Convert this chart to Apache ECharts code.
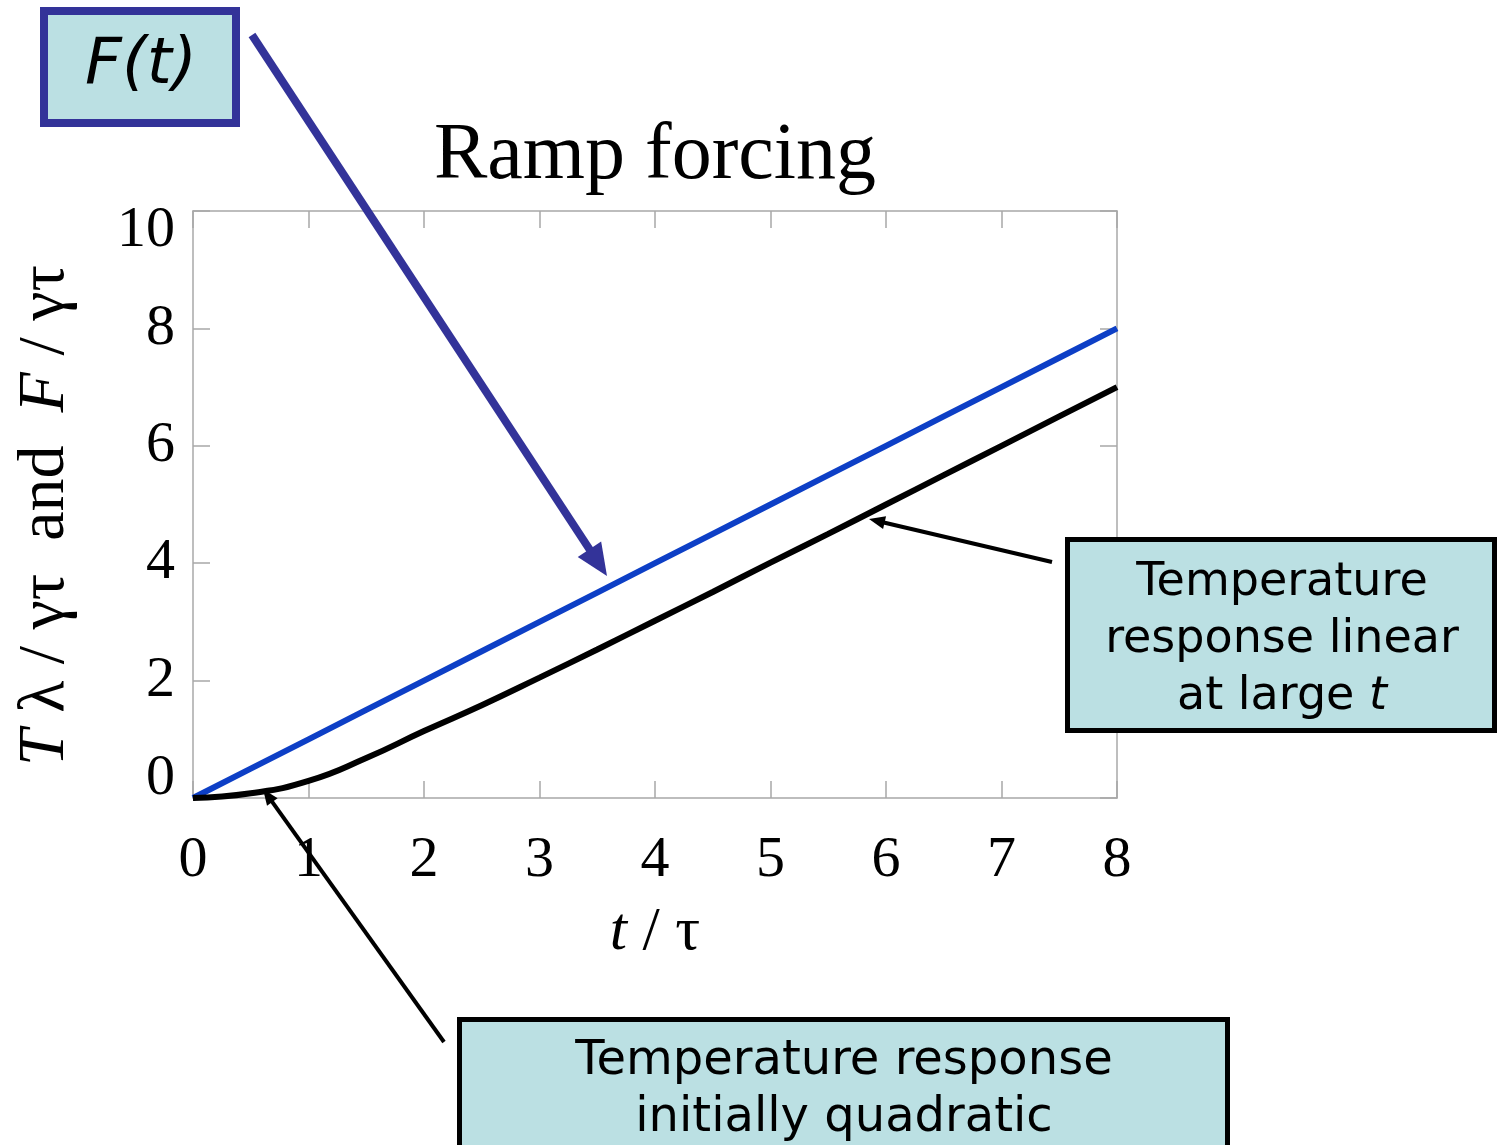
<!DOCTYPE html>
<html><head><meta charset="utf-8">
<script src="https://cdn.jsdelivr.net/npm/echarts@6/dist/echarts.min.js"></script>
<style>html,body{margin:0;padding:0;background:#fff}#c{width:1501px;height:1145px}</style>
</head><body><div id="c"></div>
<script>
// Data
var tValues = [0, 0.5, 1, 1.5, 2, 2.5, 3, 3.5, 4, 4.5, 5, 5.5, 6, 6.5, 7, 7.5, 8];
var forcing = [0, 0.5, 1, 1.5, 2, 2.5, 3, 3.5, 4, 4.5, 5, 5.5, 6, 6.5, 7, 7.5, 8];
var temperature = [0, 0.08, 0.29, 0.68, 1.14, 1.58, 2.05, 2.53, 3.02, 3.51, 4.01, 4.5, 5.0, 5.5, 6.0, 6.5, 7.0];
var xTicks = [0, 1, 2, 3, 4, 5, 6, 7, 8];
var yTicks = [0, 2, 4, 6, 8, 10];

var chart = echarts.init(document.getElementById('c'));
var serif = '"Liberation Serif", "Times New Roman", serif';
var sans = '"DejaVu Sans", Verdana, sans-serif';
var gray = '#a8a8a8';

function pairs(xs, ys) { return xs.map(function (x, i) { return [x, ys[i]]; }); }

function arrow(x1, y1, x2, y2, color, w, headLen, headW) {
  var dx = x2 - x1, dy = y2 - y1, L = Math.sqrt(dx * dx + dy * dy);
  var ux = dx / L, uy = dy / L, px = -uy, py = ux;
  var bx = x2 - ux * headLen, by = y2 - uy * headLen;
  return [
    { type: 'line', z: 100, shape: { x1: x1, y1: y1, x2: bx + ux * 2, y2: by + uy * 2 }, style: { stroke: color, lineWidth: w } },
    { type: 'polygon', z: 100, shape: { points: [[x2, y2], [bx + px * headW / 2, by + py * headW / 2], [bx - px * headW / 2, by - py * headW / 2]] }, style: { fill: color } }
  ];
}

var graphics = [
  { type: 'text', z: 100, x: 655, y: 157, style: { text: 'Ramp forcing', font: '80px ' + serif, fill: '#000', textAlign: 'center', textVerticalAlign: 'middle' } },
  // F(t) box
  { type: 'rect', z: 100, shape: { x: 44, y: 11, width: 192, height: 112 }, style: { fill: '#bbe0e3', stroke: '#333399', lineWidth: 8 } },
  { type: 'text', z: 101, x: 141, y: 66, style: { text: 'F(t)', font: 'italic 64px ' + sans, fill: '#000', textAlign: 'center', textVerticalAlign: 'middle' } },
  // right box
  { type: 'rect', z: 100, shape: { x: 1067.5, y: 539.5, width: 427, height: 191 }, style: { fill: '#bbe0e3', stroke: '#000', lineWidth: 5 } },
  { type: 'text', z: 101, x: 1282, y: 583, style: { text: 'Temperature', font: '46px ' + sans, fill: '#000', textAlign: 'center', textVerticalAlign: 'middle' } },
  { type: 'text', z: 101, x: 1282, y: 640, style: { text: 'response linear', font: '46px ' + sans, fill: '#000', textAlign: 'center', textVerticalAlign: 'middle' } },
  { type: 'text', z: 101, x: 1282, y: 697, style: { rich: { n: { font: '46px ' + sans, fill: '#000' }, i: { font: 'italic 46px ' + sans, fill: '#000' } }, text: '{n|at large }{i|t}', textAlign: 'center', textVerticalAlign: 'middle' } },
  // bottom box
  { type: 'rect', z: 100, shape: { x: 459.5, y: 1019.5, width: 768, height: 140 }, style: { fill: '#bbe0e3', stroke: '#000', lineWidth: 5 } },
  { type: 'text', z: 101, x: 844, y: 1062, style: { text: 'Temperature response', font: '48px ' + sans, fill: '#000', textAlign: 'center', textVerticalAlign: 'middle' } },
  { type: 'text', z: 101, x: 844, y: 1119, style: { text: 'initially quadratic', font: '48px ' + sans, fill: '#000', textAlign: 'center', textVerticalAlign: 'middle' } }
];
graphics = graphics.concat(arrow(252, 35, 607, 576, '#333399', 8, 32, 28));
graphics = graphics.concat(arrow(1052, 562, 869, 519, '#000', 4, 16, 13));
graphics = graphics.concat(arrow(444, 1042, 263, 789, '#000', 4, 16, 13));

var axisBase = {
  type: 'value',
  axisLine: { show: true, onZero: false, lineStyle: { color: gray, width: 1.5 } },
  axisTick: { show: true, inside: true, length: 17, lineStyle: { color: gray, width: 1.5 } },
  splitLine: { show: false }
};

var option = {
  animation: false,
  backgroundColor: '#fff',
  grid: { left: 193, top: 211, width: 924, height: 587, containLabel: false, outerBoundsMode: 'none' },
  xAxis: [
    Object.assign({}, axisBase, {
      min: 0, max: 8, interval: 1, position: 'bottom',
      axisLabel: { margin: 34, color: '#000', fontFamily: serif, fontSize: 58 },
      name: '{i|t} / τ', nameLocation: 'middle', nameGap: 104, nameMoveOverlap: false,
      nameTextStyle: { fontFamily: serif, fontSize: 62, color: '#000', rich: { i: { fontFamily: serif, fontStyle: 'italic', fontSize: 62, color: '#000' } } }
    }),
    Object.assign({}, axisBase, { min: 0, max: 8, interval: 1, position: 'top', axisLabel: { show: false } })
  ],
  yAxis: [
    Object.assign({}, axisBase, {
      min: 0, max: 10, interval: 2, position: 'left',
      axisLabel: {
        margin: 18, color: '#000', fontFamily: serif, fontSize: 58,
        formatter: function (v) { return v === 0 ? '{lo|0}' : (v === 10 ? '{hi|10}' : String(v)); },
        rich: {
          lo: { fontFamily: serif, fontSize: 58, color: '#000', padding: [0, 0, 38, 0] },
          hi: { fontFamily: serif, fontSize: 58, color: '#000', padding: [40, 0, 0, 0] }
        }
      },
      name: '{i|T} λ / γτ  and  {i|F} / γτ', nameLocation: 'middle', nameGap: 114, nameRotate: 90, nameMoveOverlap: false,
      nameTextStyle: { fontFamily: serif, fontSize: 66, color: '#000', padding: [0, 22, 0, 0], rich: { i: { fontFamily: serif, fontStyle: 'italic', fontSize: 66, color: '#000' } } }
    }),
    Object.assign({}, axisBase, { min: 0, max: 10, interval: 2, position: 'right', axisLabel: { show: false } })
  ],
  series: [
    { name: 'F', type: 'line', data: pairs(tValues, forcing), showSymbol: false, lineStyle: { color: '#0d3fc6', width: 6 }, z: 3 },
    { name: 'T', type: 'line', data: pairs(tValues, temperature), smooth: true, showSymbol: false, lineStyle: { color: '#000', width: 6 }, z: 4 }
  ],
  graphic: graphics
};
chart.setOption(option);
</script></body></html>
